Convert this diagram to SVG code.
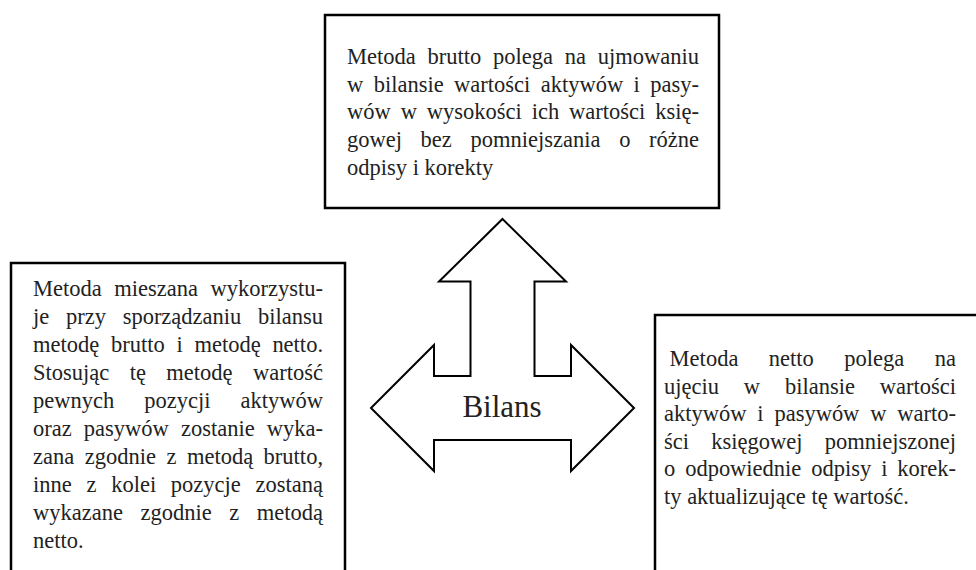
<svg xmlns="http://www.w3.org/2000/svg" width="976" height="570" viewBox="0 0 976 570">
<style>
.box{fill:#fff;stroke:#000;stroke-width:2.5}
.arrow{fill:#fff;stroke:#000;stroke-width:2;stroke-linejoin:miter}
.t{font-family:"Liberation Serif","Times New Roman",serif;font-size:22.5px;fill:#222}
.lbl{font-family:"Liberation Serif","Times New Roman",serif;font-size:31px;fill:#222}
</style>
<rect width="976" height="570" fill="#fff"/>
<g id="connectors">
<path class="arrow" d="M502.5,219 L566,281.5 L534.5,281.5 L534.5,376 L571,376 L571,345 L634,408 L571,471 L571,440 L434,440 L434,471 L371,408 L434,345 L434,376 L470.5,376 L470.5,281.5 L439,281.5 Z"/>
</g>
<g id="bilans">
<text class="lbl" x="502" y="417" text-anchor="middle">Bilans</text>
</g>
<g id="brutto">
<rect class="box" x="325" y="15" width="394" height="193"/>
<text class="t" x="347" y="64" word-spacing="6.1" textLength="352" lengthAdjust="spacing">Metoda brutto polega na ujmowaniu</text>
<text class="t" x="347" y="91.7" word-spacing="4.8" textLength="352" lengthAdjust="spacing">w bilansie wartości aktywów i pasy-</text>
<text class="t" x="347" y="119.4" word-spacing="4.3" textLength="352" lengthAdjust="spacing">wów w wysokości ich wartości księ-</text>
<text class="t" x="347" y="147.1" word-spacing="13" textLength="352" lengthAdjust="spacing">gowej bez pomniejszania o różne</text>
<text class="t" x="347" y="174.8">odpisy i korekty</text>
</g>
<g id="mieszana">
<path class="box" d="M11,572 V263 H345 V572"/>
<text class="t" x="33" y="296" word-spacing="6.9" textLength="290" lengthAdjust="spacing">Metoda mieszana wykorzystu-</text>
<text class="t" x="33" y="324" word-spacing="11.1" textLength="290" lengthAdjust="spacing">je przy sporządzaniu bilansu</text>
<text class="t" x="33" y="352" word-spacing="6.1" textLength="290" lengthAdjust="spacing">metodę brutto i metodę netto.</text>
<text class="t" x="33" y="380" word-spacing="14.8" textLength="290" lengthAdjust="spacing">Stosując tę metodę wartość</text>
<text class="t" x="33" y="408" word-spacing="24.4" textLength="290" lengthAdjust="spacing">pewnych pozycji aktywów</text>
<text class="t" x="33" y="436" word-spacing="6.5" textLength="290" lengthAdjust="spacing">oraz pasywów zostanie wyka-</text>
<text class="t" x="33" y="464" word-spacing="4.85" textLength="290" lengthAdjust="spacing">zana zgodnie z metodą brutto,</text>
<text class="t" x="33" y="492" word-spacing="9.1" textLength="290" lengthAdjust="spacing">inne z kolei pozycje zostaną</text>
<text class="t" x="33" y="520" word-spacing="11.9" textLength="290" lengthAdjust="spacing">wykazane zgodnie z metodą</text>
<text class="t" x="33" y="548">netto.</text>
</g>
<g id="netto">
<path class="box" d="M978,315 H655 V572"/>
<text class="t" x="669.6" y="366" word-spacing="24.8" textLength="286.4" lengthAdjust="spacing">Metoda netto polega na</text>
<text class="t" x="664" y="393.5" word-spacing="19.2" textLength="292" lengthAdjust="spacing">ujęciu w bilansie wartości</text>
<text class="t" x="664" y="421" word-spacing="5.2" textLength="292" lengthAdjust="spacing">aktywów i pasywów w warto-</text>
<text class="t" x="664" y="448.5" word-spacing="16.6" textLength="292" lengthAdjust="spacing">ści księgowej pomniejszonej</text>
<text class="t" x="664" y="476" word-spacing="4.3" textLength="292" lengthAdjust="spacing">o odpowiednie odpisy i korek-</text>
<text class="t" x="664" y="503.5">ty aktualizujące tę wartość.</text>
</g>
</svg>
